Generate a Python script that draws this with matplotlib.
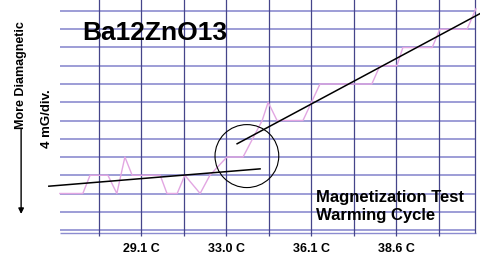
import matplotlib.pyplot as plt
import numpy as np
from matplotlib.patches import Ellipse

plt.rcParams['font.family'] = ['Liberation Sans', 'DejaVu Sans']

# x in chart divisions, y in mG (4 mG per division)
trace_x = [0.08, 0.62, 0.79, 1.21, 1.42, 1.61, 1.78, 2.44, 2.60, 2.84, 3.02, 3.38, 3.61,
           4.01, 4.39, 4.84, 4.98, 5.19, 5.80, 6.20, 7.42, 7.61, 8.01, 8.15, 8.84, 9.02,
           9.66, 9.87]
trace_y = [8, 8, 12, 12, 8, 16, 12, 12, 8, 8, 12, 8, 12,
           16, 16, 24, 28, 24, 24, 32, 32, 36, 36, 40, 40, 44,
           44, 48.5]

fit_low_x = [-0.18, 4.79]
fit_low_y = [9.6, 13.4]
fit_high_x = [4.25, 9.96]
fit_high_y = [18.9, 47.4]

circle_center = (4.48, 16.2)

tick_pos = [2, 4, 6, 8]
tick_labels = ['29.1 C', '33.0 C', '36.1 C', '38.6 C']

fig = plt.figure(figsize=(4.8, 2.55), dpi=100)
ax = fig.add_axes([0, 0, 1, 1])
ax.set_xlim(-1.329, 9.965)
ax.set_ylim(-5.26, 50.63)
ax.axis('off')

# chart paper
ax.hlines(np.arange(0, 49, 4), 0.08, 9.87, color='#8c8cd0', lw=1.2, zorder=1)
ax.hlines(-0.6, 0.08, 9.87, color='#8c8cd0', lw=1.0, zorder=1)
ax.vlines(np.arange(1, 10), -1.3, 50.63, color='#45458a', lw=0.9, zorder=1)
ax.vlines(9.85, -0.6, 50.63, color='#45458a', lw=0.9, zorder=1)

# pen trace
ax.plot(trace_x, trace_y, color='#e2a6e2', lw=1.0, zorder=2)

# fitted lines
ax.plot(fit_low_x, fit_low_y, color='black', lw=1.1, zorder=3, clip_on=False)
ax.plot(fit_high_x, fit_high_y, color='black', lw=1.1, zorder=3)
ax.add_patch(Ellipse(circle_center, 1.5, 13.8, fill=False, ec='black', lw=0.8, zorder=3))

for p, lab in zip(tick_pos, tick_labels):
    ax.text(p, -4.6, lab, ha='center', va='baseline', fontsize=9, fontweight='bold')

ax.text(0.171, 0.843, 'Ba12ZnO13', transform=ax.transAxes, fontsize=19,
        fontweight='bold', va='baseline', ha='left')
ax.text(0.658, 0.208, 'Magnetization Test', transform=ax.transAxes, fontsize=12,
        fontweight='bold', va='baseline', ha='left')
ax.text(0.658, 0.137, 'Warming Cycle', transform=ax.transAxes, fontsize=12,
        fontweight='bold', va='baseline', ha='left')

ax.text(0.044, 0.706, 'More Diamagnetic', transform=ax.transAxes, fontsize=9,
        fontweight='bold', rotation=90, ha='center', va='center')
ax.text(0.098, 0.533, '4 mG/div.', transform=ax.transAxes, fontsize=9.5,
        fontweight='bold', rotation=90, ha='center', va='center')
ax.annotate('', xy=(0.044, 0.157), xytext=(0.044, 0.49), xycoords='axes fraction',
            arrowprops=dict(arrowstyle='-|>', color='black', lw=1.0,
                            mutation_scale=8, shrinkA=0, shrinkB=0))

fig.savefig('out.png', dpi=100)
